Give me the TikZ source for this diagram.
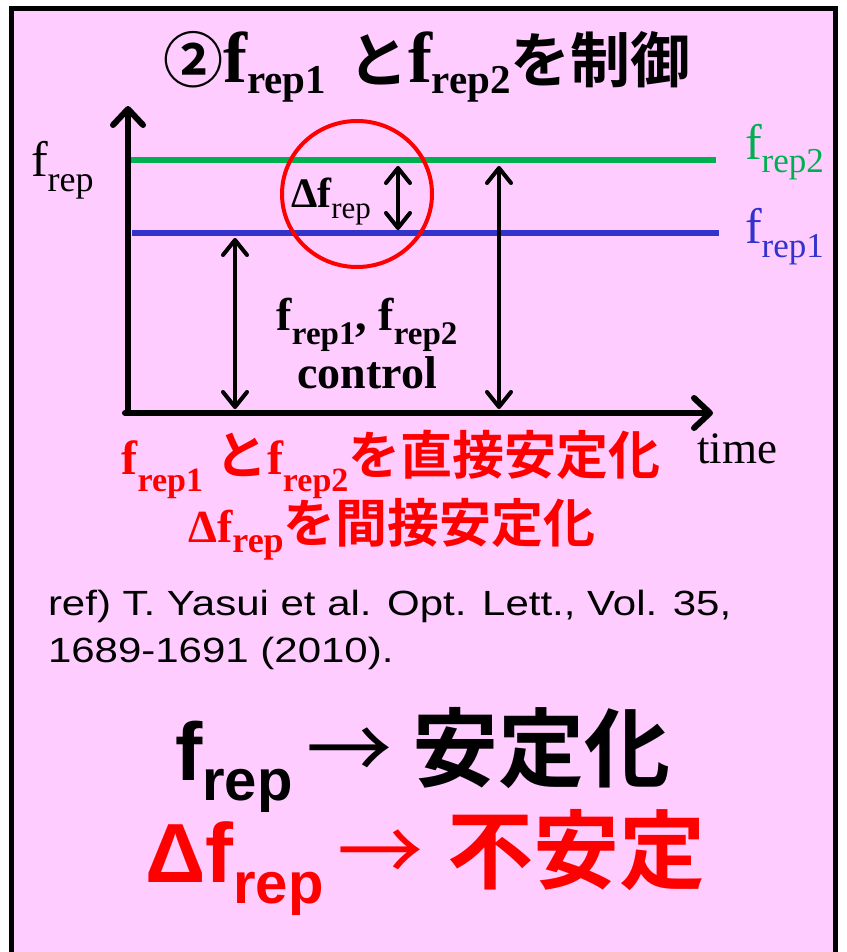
\documentclass[tikz,border=0pt]{standalone}
\usepackage{fontspec}
\setmainfont{Liberation Serif}
\newfontfamily\cjk{Noto Sans CJK JP}[BoldFont={Noto Sans CJK JP Bold}]
\newfontfamily\arial{Liberation Sans}
\newfontfamily\arialwide{Liberation Sans}[FakeStretch=1.2]
\usetikzlibrary{arrows.meta,calc,shapes.geometric}
\definecolor{bgpink}{HTML}{FFCCFF}
\definecolor{lgreen}{HTML}{00B050}
\definecolor{lblue}{HTML}{3333CC}
\definecolor{tred}{HTML}{FF0000}
\newcommand\fs[1]{\fontsize{#1pt}{#1pt}\selectfont}
\newcommand\lo[3]{\raisebox{-#1pt}{\fs{#2}#3}}
\tikzset{
  axisline/.style={line width=6pt, line cap=round, line join=round, -{Straight Barb[length=16pt,width=30pt,line cap=round,line join=round]}},
  dblarrow/.style={line width=4pt, {Straight Barb[length=15pt,width=24pt,line cap=round,line join=round]}-{Straight Barb[length=15pt,width=24pt,line cap=round,line join=round]}},
  level/.style={line width=6pt},
  txt/.style={inner sep=0pt, outer sep=0pt},
}
\begin{document}
\begin{tikzpicture}[x=1pt,y=-1pt]
\useasboundingbox (0,0) rectangle (846,952);
\fill[white] (0,0) rectangle (846,952);
\draw[line width=5pt, fill=bgpink] (11,9) rectangle (835,970);

% title
\node[txt, anchor=base] (title) at (427,83) {\bfseries{\cjk\fs{60}②}{\fs{72}f}\lo{11}{41}{rep1}\hspace{22pt}{\cjk\fs{60}と}{\fs{72}f}\lo{11}{41}{rep2}{\cjk\fs{60}を制御}};

% coordinates
\coordinate (origin) at (128,413);
\coordinate (xstart) at (125,413);
\coordinate (ytip) at (128,106);
\coordinate (xtip) at (713,413);
\coordinate (g1) at (128,160);
\coordinate (g2) at (716,160);
\coordinate (b1) at (132,233);
\coordinate (b2) at (719,233);
\coordinate (la1) at (235,238);
\coordinate (la2) at (235,409);
\coordinate (ra1) at (499,166);
\coordinate (ra2) at (499,409);
\coordinate (da1) at (398,166);
\coordinate (da2) at (398,230);

\draw[level, lgreen] (g1) -- (g2);
\draw[level, lblue] (b1) -- (b2);
\draw[axisline] (origin) -- (ytip);
\draw[axisline] (xstart) -- (xtip);

\draw[dblarrow] (la1) -- (la2);
\draw[dblarrow] (ra1) -- (ra2);
\draw[dblarrow] (da1) -- (da2);

\node[draw=tred, line width=4pt, ellipse, minimum width=150pt, minimum height=146pt] (circ) at (357,194) {};

% labels
\node[txt, anchor=base west] (yl) at (31,177) {\fs{50}f\lo{15}{36}{rep}};
\node[txt, anchor=base west, text=lgreen] (l2) at (745,160) {\fs{50}f\lo{13}{35}{rep2}};
\node[txt, anchor=base west, text=lblue] (l1) at (745,243) {\fs{50}f\lo{14}{35}{rep1}};
\node[txt, anchor=base west] (dl) at (291,207) {{\bfseries\fs{42}Δf}\lo{12}{31}{rep}};
\node[txt, anchor=base] (ctl1) at (367,330) {\bfseries\fs{46}f\lo{14}{33}{rep1}, f\lo{14}{33}{rep2}};
\node[txt, anchor=base] (ctl2) at (367,388) {\bfseries\fs{46}control};
\node[txt, anchor=base west] (time) at (697,463) {\fs{45}time};

% red statements
\node[txt, anchor=base, text=tred] (st1) at (391,474) {\bfseries{\fs{48}f}\lo{17}{34}{rep1}\hspace{12pt}{\cjk\fs{52}と}{\fs{48}f}\lo{17}{34}{rep2}{\cjk\fs{52}を直接安定化}};
\node[txt, anchor=base, text=tred] (st2) at (392,542) {\bfseries{\fs{46}Δf}\lo{10}{36}{rep}{\cjk\fs{52}を間接安定化}};

% reference
\node[txt, anchor=base west] (ref1) at (48,615) {\arialwide\fs{35}ref) T. Yasui et al. Opt. Lett., Vol. 35,};
\node[txt, anchor=base west] (ref2) at (48,662) {\arialwide\fs{35}1689-1691 (2010).};

% bottom
\node[txt, anchor=base west] (bl1) at (175,780) {\arial\bfseries{\fs{82}f}\lo{20}{58}{rep}\hspace{14pt}{\cjk\mdseries\fs{86}→}\hspace{20pt}{\cjk\fs{86}安定化}};
\node[txt, anchor=base west, text=tred] (bl2) at (145,882) {\arial\bfseries{\fs{84}Δf}\lo{21}{58}{rep}\hspace{14pt}{\cjk\mdseries\fs{86}→}\hspace{24pt}{\cjk\fs{86}不安定}};
\end{tikzpicture}
\end{document}
